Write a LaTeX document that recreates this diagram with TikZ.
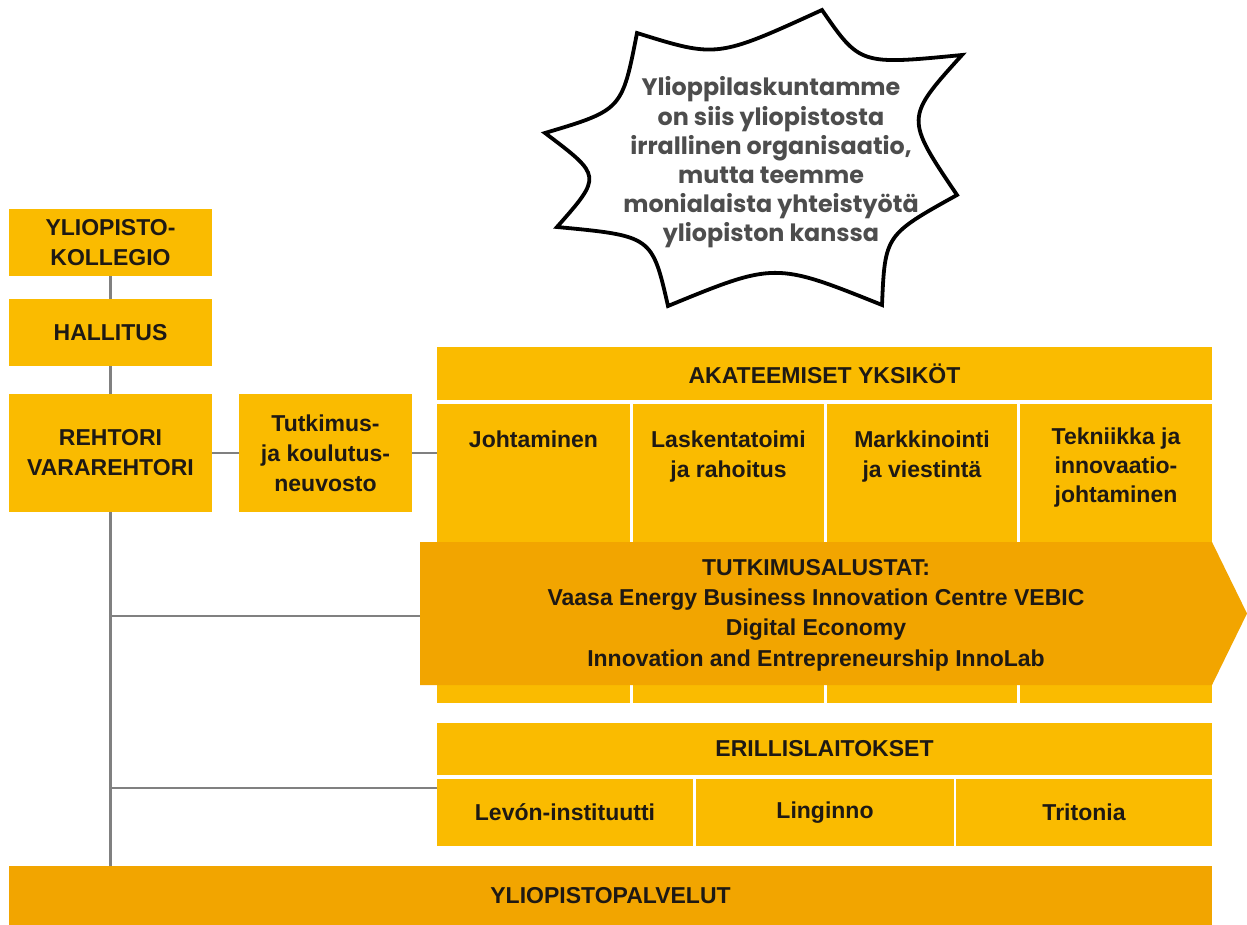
\documentclass[tikz,border=0pt]{standalone}
\usepackage{fontspec}
\setmainfont{Liberation Sans}
\newfontfamily\burstfont{Poppins}
\definecolor{uyellow}{RGB}{250,187,0}
\definecolor{uorange}{RGB}{242,165,0}
\definecolor{ugray}{RGB}{128,128,128}
\definecolor{utext}{RGB}{30,25,20}
\definecolor{bursttext}{RGB}{77,77,77}
\begin{document}
\begin{tikzpicture}[x=1pt,y=-1pt,
  box/.style={fill=uyellow, draw=none, inner sep=0pt, align=center,
    font=\fontsize{23}{30}\selectfont\bfseries, text=utext},
  obox/.style={box, fill=uorange},
  celltext/.style={inner sep=0pt, align=center, anchor=north,
    font=\fontsize{23}{30}\selectfont\bfseries, text=utext},
  link/.style={draw=ugray, line width=2.5pt},
  bursttxt/.style={inner sep=0pt, align=center, text=bursttext,
    font=\burstfont\fontsize{23.8}{29.2}\selectfont\bfseries}
]
\useasboundingbox (0,0) rectangle (1247,925);
\fill[white] (0,0) rectangle (1247,925);

% ---- left column boxes
\node[box, minimum width=203pt, minimum height=67pt] (kollegio) at (110.5,242.5)
  {\fontsize{23}{28}\selectfont YLIOPISTO-\\KOLLEGIO};
\node[box, minimum width=203pt, minimum height=67pt] (hallitus) at (110.5,332.5) {HALLITUS};
\node[box, minimum width=203pt, minimum height=118pt] (rehtori) at (110.5,453)
  {\fontsize{23}{40}\selectfont REHTORI\\VARAREHTORI};
\node[box, minimum width=173pt, minimum height=118pt] (neuvosto) at (325.5,453)
  {\fontsize{23}{31}\selectfont Tutkimus-\\ja koulutus-\\neuvosto};

% ---- academic units
\node[box, minimum width=775pt, minimum height=53pt] (akat) at (824.5,373.5) {AKATEEMISET YKSIK\"OT};
\node[box, minimum width=193pt, minimum height=299pt] (c1) at (533.5,553.5) {};
\node[box, minimum width=191pt, minimum height=299pt] (c2) at (728.5,553.5) {};
\node[box, minimum width=190pt, minimum height=299pt] (c3) at (922,553.5) {};
\node[box, minimum width=192pt, minimum height=299pt] (c4) at (1116,553.5) {};
\node[celltext] (t1) at ([yshift=-27pt]c1.north) {Johtaminen};
\node[celltext] (t2) at ([yshift=-27pt]c2.north) {Laskentatoimi\\ja rahoitus};
\node[celltext] (t3) at ([yshift=-27pt]c3.north) {Markkinointi\\ja viestint\"a};
\node[celltext, font=\fontsize{23}{29}\selectfont\bfseries] (t4) at ([yshift=-24pt]c4.north) {Tekniikka ja\\innovaatio-\\johtaminen};

% ---- research platforms arrow
\fill[uorange] (420,542) -- (1212,542) -- (1247,613.5) -- (1212,685) -- (420,685) -- cycle;
\coordinate (arrowW) at (420,616);
\node[inner sep=0pt, align=center, text=utext, font=\fontsize{23}{30.3}\selectfont\bfseries] (platforms) at (816,615)
  {TUTKIMUSALUSTAT:\\Vaasa Energy Business Innovation Centre VEBIC\\Digital Economy\\Innovation and Entrepreneurship InnoLab};

% ---- separate institutes
\node[box, minimum width=775pt, minimum height=52pt] (erill) at (824.5,749) {ERILLISLAITOKSET};
\node[box, minimum width=256pt, minimum height=67pt] (levon) at (565,812.5) {Lev\'on-instituutti};
\node[box, minimum width=258pt, minimum height=67pt] (linginno) at (825,812.5) {Linginno};
\node[box, minimum width=256pt, minimum height=67pt] (tritonia) at (1084,812.5) {Tritonia};

% ---- university services
\node[obox, minimum width=1203pt, minimum height=59pt] (palvelut) at (610.5,895.5) {YLIOPISTOPALVELUT};

% ---- connectors
\coordinate (j1) at (110.5,616);
\coordinate (j2) at (110.5,788);
\coordinate (erillW) at (437,788);
\draw[link] (kollegio) -- (hallitus);
\draw[link] (hallitus) -- (rehtori);
\draw[link] (rehtori.south) -- (palvelut.north -| rehtori.south);
\draw[link] (rehtori.east |- neuvosto.west) -- (neuvosto.west);
\draw[link] (neuvosto.east) -- (neuvosto.east -| akat.west);
\draw[link] (j1) -- (arrowW);
\draw[link] (j2) -- (erillW);

% ---- starburst
\draw[line width=3.8pt, line join=miter, fill=white]
  (822,10) .. controls (860,65) .. (962,55)
  .. controls (905,118) .. (957,195)
  .. controls (885,235) .. (882,305)
  .. controls (775,262) .. (668,306)
  .. controls (652,236) .. (557,227)
  .. controls (602,176) .. (545,133)
  .. controls (622,110) .. (637,33)
  .. controls (717,58) .. cycle;
\node[bursttxt] (burst) at (771,162.5)
  {Ylioppilaskuntamme\\on siis yliopistosta\\irrallinen organisaatio,\\mutta teemme\\monialaista yhteisty\"ot\"a\\yliopiston kanssa};
\end{tikzpicture}
\end{document}
